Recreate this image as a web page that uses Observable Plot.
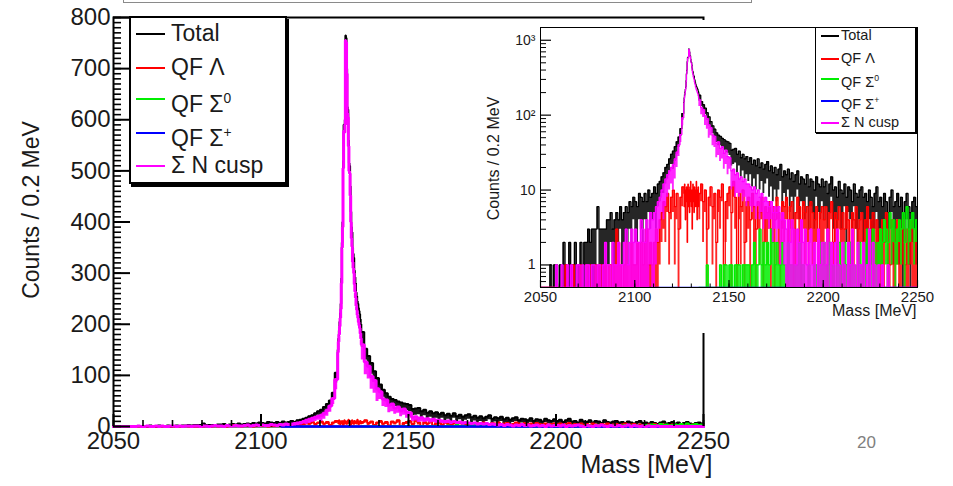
<!DOCTYPE html>
<html><head><meta charset="utf-8">
<script src="https://cdn.jsdelivr.net/npm/d3@7"></script>
<script src="https://cdn.jsdelivr.net/npm/@observablehq/plot@0.6"></script>
<style>
html,body{margin:0;padding:0;background:#fff;}
#wrap{position:relative;width:953px;height:486px;overflow:hidden;font-family:"Liberation Sans",Arial,Helvetica,sans-serif;color:#000;}
#main{position:absolute;left:0;top:0;}
#inset{position:absolute;left:470px;top:20px;background:#fff;width:483px;height:313px;}
.leg{position:absolute;background:#fff;border:1.5px solid #000;box-sizing:border-box;}
.row{position:absolute;left:0;white-space:nowrap;color:#1a1a1a;}
.sw{position:absolute;}
.topbox{position:absolute;left:123px;top:-20px;width:629px;height:23px;border:1.5px solid #8a8a8a;box-sizing:border-box;}
.page{position:absolute;left:857px;top:433px;font-size:17px;color:#808080;}
sup{font-size:60%;}
</style></head>
<body><div id="wrap">
<div id="main"></div>
<div id="inset"></div>
<div class="topbox"></div>
<div class="page">20</div>
</div>
<script>
// ---- data: Counts / 0.2 MeV ----
// bins: 1 MeV (2050-2126), 0.2 MeV (2126-2134), 1 MeV (2134-2250)
const seriesNames = ["Total", "QF \u039B", "QF \u03A3<sup>0</sup>", "QF \u03A3<sup>+</sup>", "\u03A3 N cusp"];
const seriesColors = ["#000000", "#ff0000", "#00ee00", "#0000ff", "#ff00ff"];

const totalLow = [0,0,0,0,0,1,0,1,1,0, 1,0,2,1,0,2,1,1,2,0, 1,2,1,2,2,3,2,3,3,3, 6,3,3,3,3,4,4,5,3,4,
  5,4,6,4,5,6,5,7,6,8, 7,6,9,8,7,9,7,10,8,9, 11,9,12,13,15,17,20,22,26,30, 33,38,44,51,66,105];
const totalPeak = [150,172,188,205,222,240,290,360,400,520, 590,585,600,765,760,700,625,620,560,515,
  510,470,420,390,380,350,338,330,305,292, 280,262,255,245,240,232,226,220,210,200];
const totalHigh = [185,152,138,124,108,95,82,72,65,58, 54,52,49,47,45,44,
  42,34,35,36,30,33,27,30,26,28, 24,27,22,25,21,26,20,23,19,22, 24,18,21,17,20,16,19,22,15,18,
  16,19,14,17,13,16,18,12,15,14, 12,16,11,14,13,10,15,12,11,14, 11,13,9,12,15,10,11,8,13,10,
  9,12,8,11,10,7,12,9,8,10, 11,8,9,7,10,8,6,9,11,7, 8,6,9,7,5,8,10,6,7,9, 6,8,5,7,9,6,5,7,8,6];

const cuspLow = [0,0,0,0,0,0,0,0,1,0, 0,1,0,0,1,0,1,0,0,1, 1,0,1,0,1,1,0,1,1,0, 1,1,0,1,2,1,1,0,2,1,
  1,2,1,1,2,3,1,2,3,2, 3,2,2,4,3,2,4,3,5,4, 5,6,7,8,10,12,14,16,18,20, 22,26,32,40,55,92];
const cuspPeak = [145,166,180,196,212,230,280,350,390,505, 578,575,590,755,752,690,612,605,548,500,
  495,452,400,368,352,322,310,300,278,264, 252,236,228,218,212,204,198,192,182,172];
const cuspHigh = [160,126,118,98,90,74,68,54,52,42, 44,36,38,31,34,28,
  27,18,19,16,17,14,15,13,14,12, 12,11,10,11,9,10,8,9,7,8, 7,6,7,5,6,5,6,4,5,4,
  3,4,2,4,3,1,3,2,4,2, 3,1,2,3,1,2,0,3,1,2, 2,1,3,0,2,1,2,3,1,0,
  2,1,0,2,1,3,1,0,2,1, 1,2,0,1,3,0,2,1,0,1, 0,1,0,0,1,0,0,0,0,0, 0,0,0,0,0,0,0,0,0,0];

const lambdaLow = [0,0,0,0,0,0,0,0,0,0, 0,0,0,1,0,0,0,1,0,0, 0,1,0,0,1,0,1,0,0,1, 0,1,1,0,1,0,1,1,0,1,
  3,2,1,0,1,2,1,0,2,1, 1,2,0,2,1,2,3,1,2,1, 2,3,2,4,5,7,6,9,5,8, 10,6,9,3,8,11];
const lambdaPeak = [9,6,12,8,4,10,7,11,8,2, 9,12,6,10,8,5,11,7,13,9,
  6,10,3,8,12,7,9,5,11,8, 10,6,9,13,7,4,10,8,11,6];
const lambdaHigh = [9,12,7,10,3,8,11,6,9,2, 10,8,12,1,7,9,
  11,5,13,8,1,9,6,10,2,7, 8,4,9,6,3,7,5,8,2,6, 5,7,3,6,4,8,5,2,7,6,
  8,4,6,7,3,5,8,6,4,7, 5,6,3,7,5,4,6,2,5,6, 4,6,3,5,7,2,5,4,6,3,
  5,3,6,4,2,5,4,6,3,4, 5,2,4,6,3,4,5,1,4,3, 3,4,2,5,3,1,4,2,3,4, 2,3,4,1,3,2,4,3,2,3];

const sigma0High = [0,0,0,0,1,0,0,0,0,0, 0,1,0,1,1,0,
  1,1,0,1,1,1,0,1,1,1, 1,0,1,2,1,1,3,1,2,1, 2,1,3,2,1,2,1,1,2,1,
  1,2,1,1,0,1,1,2,1,1, 0,0,1,0,0,1,1,1,2,1, 2,1,1,2,1,1,0,1,2,1,
  1,2,1,1,2,1,1,0,1,2, 1,1,2,3,1,2,3,2,1,2, 3,2,4,3,2,5,3,4,2,3, 4,3,5,2,6,3,4,5,3,4];

const sigmaPlusEdges = [2107, 2250];
const sigmaPlus = [0];

// bin-to-bin spread (counts) of the 0.2 MeV bins, per 5 MeV stretch from 2050
const totalSpread  = [10,10,10,10,10,10,3,3,3,4, 5,5,6,8,14,20,30,22,15,13, 13,12,11,10,10,9,9,8,8,7, 7,7,6,6,6,6,5,5,5,5];
const cuspSpread   = [10,10,10,10,10,10,10,10,10,10, 4,4,5,8,12,20,30,25,15,12, 8,6,5,4,3,3,5,5,5,5, 5,5,5,5,5,5,5,5,5,5];
const lambdaSpread = [3,3,3,3,3,3,3,3,3,3, 3,3,3,4,5,5,5,5,5,5, 5,5,5,4,4,4,4,4,4,4, 3,3,3,3,3,3,3,3,3,3];
const sigma0Spread = [0,0,0,0,0,0,0,0,0,0, 0,0,0,0,0,0,1,1,1,1, 2,2,2,2,2,2,2,2,2,2, 2,2,2,2,2,2,2,2,2,2];

// tick values
const xMajor = [2050, 2100, 2150, 2200, 2250];
const xMinor = d3.range(2050, 2251, 10);
const yMajorMain = d3.range(0, 801, 100);
const yMinorMain = d3.range(0, 801, 10);
const yMajorLog = [1, 10, 100, 1000];
const yMinorLog = [0.6,0.7,0.8,0.9, 2,3,4,5,6,7,8,9, 20,30,40,50,60,70,80,90, 200,300,400,500,600,700,800,900];

// bin edges
const edges = [...d3.range(2050, 2126, 1), ...d3.range(40).map(i => +(2126 + 0.2 * i).toFixed(1)), ...d3.range(2134, 2251, 1)];

const total = [...totalLow, ...totalPeak, ...totalHigh];
const cusp = [...cuspLow, ...cuspPeak, ...cuspHigh];
const lambda = [...lambdaLow, ...lambdaPeak, ...lambdaHigh];

function steps(values, ed, start, floor) {
  const pts = [];
  values.forEach((v, i) => {
    const y = floor != null ? Math.max(v, floor) : v;
    pts.push({x: ed[start + i], y}, {x: ed[start + i + 1], y});
  });
  return pts;
}
function band(values, start, from, to, spread, floor) {
  const pts = [];
  for (let i = from; i < to; i++) {
    const x0 = edges[start + i], x1 = edges[start + i + 1];
    const g = Math.min(39, Math.floor((x0 - 2050) / 5));
    let y2 = values[i], y1 = Math.max(0, y2 - spread[g]);
    if (floor != null) { y1 = Math.max(y1, floor); y2 = Math.max(y2, floor); }
    pts.push({x: x0, y1, y2}, {x: x1, y1, y2});
  }
  return pts;
}

const FONT = '"Liberation Sans", Arial, Helvetica, sans-serif';
const plain = d => String(d);

function histMarks(floor, widths, clip, op) {
  const o = (c, w) => ({x: "x", y: "y", stroke: c, strokeWidth: w, clip, strokeLinejoin: "miter"});
  const a = (c) => ({x: "x", y1: "y1", y2: "y2", fill: c, fillOpacity: op, clip});
  return [
    Plot.areaY(band(total, 0, 0, 76, totalSpread, floor), a(seriesColors[0])),
    Plot.areaY(band(total, 0, 116, 232, totalSpread, floor), a(seriesColors[0])),
    Plot.line(steps(total, edges, 0, floor), o(seriesColors[0], widths[0])),
    Plot.areaY(band(lambda, 0, 0, 76, lambdaSpread, floor), a(seriesColors[1])),
    Plot.areaY(band(lambda, 0, 116, 232, lambdaSpread, floor), a(seriesColors[1])),
    Plot.line(steps(lambda, edges, 0, floor), o(seriesColors[1], widths[1])),
    Plot.areaY(band(sigma0High, 116, 0, 116, sigma0Spread, floor), a(seriesColors[2])),
    Plot.line(steps(sigma0High, edges, 116, floor), o(seriesColors[2], widths[2])),
    Plot.line(steps(sigmaPlus, sigmaPlusEdges, 0, floor), o(seriesColors[3], widths[3])),
    Plot.areaY(band(cusp, 0, 0, 76, cuspSpread, floor), a(seriesColors[4])),
    Plot.areaY(band(cusp, 0, 116, 232, cuspSpread, floor), a(seriesColors[4])),
    Plot.line(steps(cusp, edges, 0, floor), o(seriesColors[4], widths[4]))
  ];
}

// ---- main linear plot ----
const mW = 953, mH = 486, mL = 113, mR = 250, mT = 17, mB = 60;
const mIW = mW - mL - mR, mIH = mH - mT - mB;
const mainPlot = Plot.plot({
  width: mW, height: mH, marginLeft: mL, marginRight: mR, marginTop: mT, marginBottom: mB,
  style: {fontFamily: FONT, color: "#1a1a1a", background: "transparent", overflow: "visible"},
  x: {domain: [2050, 2250]},
  y: {domain: [0, 800]},
  marks: [
    Plot.frame({stroke: "#000", strokeWidth: 2}),
    ...histMarks(null, [2, 2, 2, 2.5, 3], false, 0.9),
    Plot.tickY(yMinorMain, {y: d => d, insetRight: mIW - 8, stroke: "#000", strokeWidth: 1.6}),
    Plot.tickY(yMajorMain, {y: d => d, insetRight: mIW - 17, stroke: "#000", strokeWidth: 2}),
    Plot.tickX(xMinor, {x: d => d, insetTop: mIH - 6, stroke: "#000", strokeWidth: 1.6}),
    Plot.tickX(xMajor, {x: d => d, insetTop: mIH - 12, stroke: "#000", strokeWidth: 2}),
    Plot.axisY(yMajorMain, {tickSize: 0, tickPadding: 3, fontSize: 24, label: null, tickFormat: plain}),
    Plot.axisX(xMajor, {tickSize: 0, tickPadding: 5, fontSize: 24, label: null, tickFormat: plain}),
    Plot.text(["Mass [MeV]"], {text: d => d, frameAnchor: "bottom-right", dx: 9, dy: 46, textAnchor: "end", fontSize: 25, fill: "#1a1a1a"}),
    Plot.text(["Counts / 0.2 MeV"], {text: d => d, frameAnchor: "left", rotate: -90, textAnchor: "middle", dx: -82, dy: -12, fontSize: 23, fill: "#1a1a1a"})
  ]
});
document.getElementById("main").appendChild(mainPlot);

// ---- inset log plot ----
const iW = 483, iH = 313, iL = 70, iR = 36, iT = 7, iB = 46;
const iIW = iW - iL - iR, iIH = iH - iT - iB;
const supMap = {1: "1", 10: "10", 100: "10\u00B2", 1000: "10\u00B3"};
const insetPlot = Plot.plot({
  width: iW, height: iH, marginLeft: iL, marginRight: iR, marginTop: iT, marginBottom: iB,
  style: {fontFamily: FONT, color: "#1a1a1a", background: "#fff", overflow: "visible"},
  x: {domain: [2050, 2250]},
  y: {type: "log", domain: [0.5, 1480]},
  marks: [
    ...histMarks(0.5, [1.3, 1.3, 1.3, 1.6, 1.3], true, 0.85),
    Plot.frame({stroke: "#000", strokeWidth: 1}),
    Plot.tickY(yMinorLog, {y: d => d, insetRight: iIW - 6, stroke: "#000", strokeWidth: 1}),
    Plot.tickY(yMajorLog, {y: d => d, insetRight: iIW - 11, stroke: "#000", strokeWidth: 1.2}),
    Plot.tickX(xMinor, {x: d => d, insetTop: iIH - 3.5, stroke: "#000", strokeWidth: 1}),
    Plot.tickX(xMajor, {x: d => d, insetTop: iIH - 7, stroke: "#000", strokeWidth: 1.2}),
    Plot.axisY(yMajorLog, {tickSize: 0, tickPadding: 5, fontSize: 14, label: null, tickFormat: d => supMap[d]}),
    Plot.axisX(xMajor, {tickSize: 0, tickPadding: 4, fontSize: 15, label: null, tickFormat: plain}),
    Plot.text(["Mass [MeV]"], {text: d => d, frameAnchor: "bottom-right", dx: -1, dy: 28, textAnchor: "end", fontSize: 16, fill: "#1a1a1a"}),
    Plot.text(["Counts / 0.2 MeV"], {text: d => d, frameAnchor: "left", rotate: -90, textAnchor: "middle", dx: -47, dy: 1, fontSize: 16, fill: "#1a1a1a"})
  ]
});
document.getElementById("inset").appendChild(insetPlot);

// ---- legends ----
function legend(box, rows, sw, textX, fontSize, border, shadow) {
  const d = document.createElement("div");
  d.className = "leg";
  Object.assign(d.style, {left: box[0] + "px", top: box[1] + "px", width: box[2] + "px", height: box[3] + "px",
    borderWidth: border + "px", boxShadow: shadow});
  seriesNames.forEach((name, i) => {
    const line = document.createElement("div");
    line.className = "sw";
    Object.assign(line.style, {left: sw[0] + "px", width: sw[1] + "px", top: (rows[i] - sw[2] / 2) + "px",
      height: sw[2] + "px", background: seriesColors[i]});
    d.appendChild(line);
    const t = document.createElement("div");
    t.className = "row";
    t.innerHTML = name;
    Object.assign(t.style, {left: textX + "px", top: (rows[i] - fontSize * 0.6) + "px", fontSize: fontSize + "px",
      lineHeight: (fontSize * 1.2) + "px"});
    d.appendChild(t);
  });
  document.getElementById("wrap").appendChild(d);
}
legend([129, 16, 158, 168], [16, 50, 81, 115, 148], [5, 29, 2.5], 40, 23, 2, "2px 3px 0 #000");
legend([815, 27, 101, 106], [8, 31, 51, 73, 95], [5, 18, 2], 25, 14.5, 1, "1px 1px 0 #000");
</script>
</body></html>
